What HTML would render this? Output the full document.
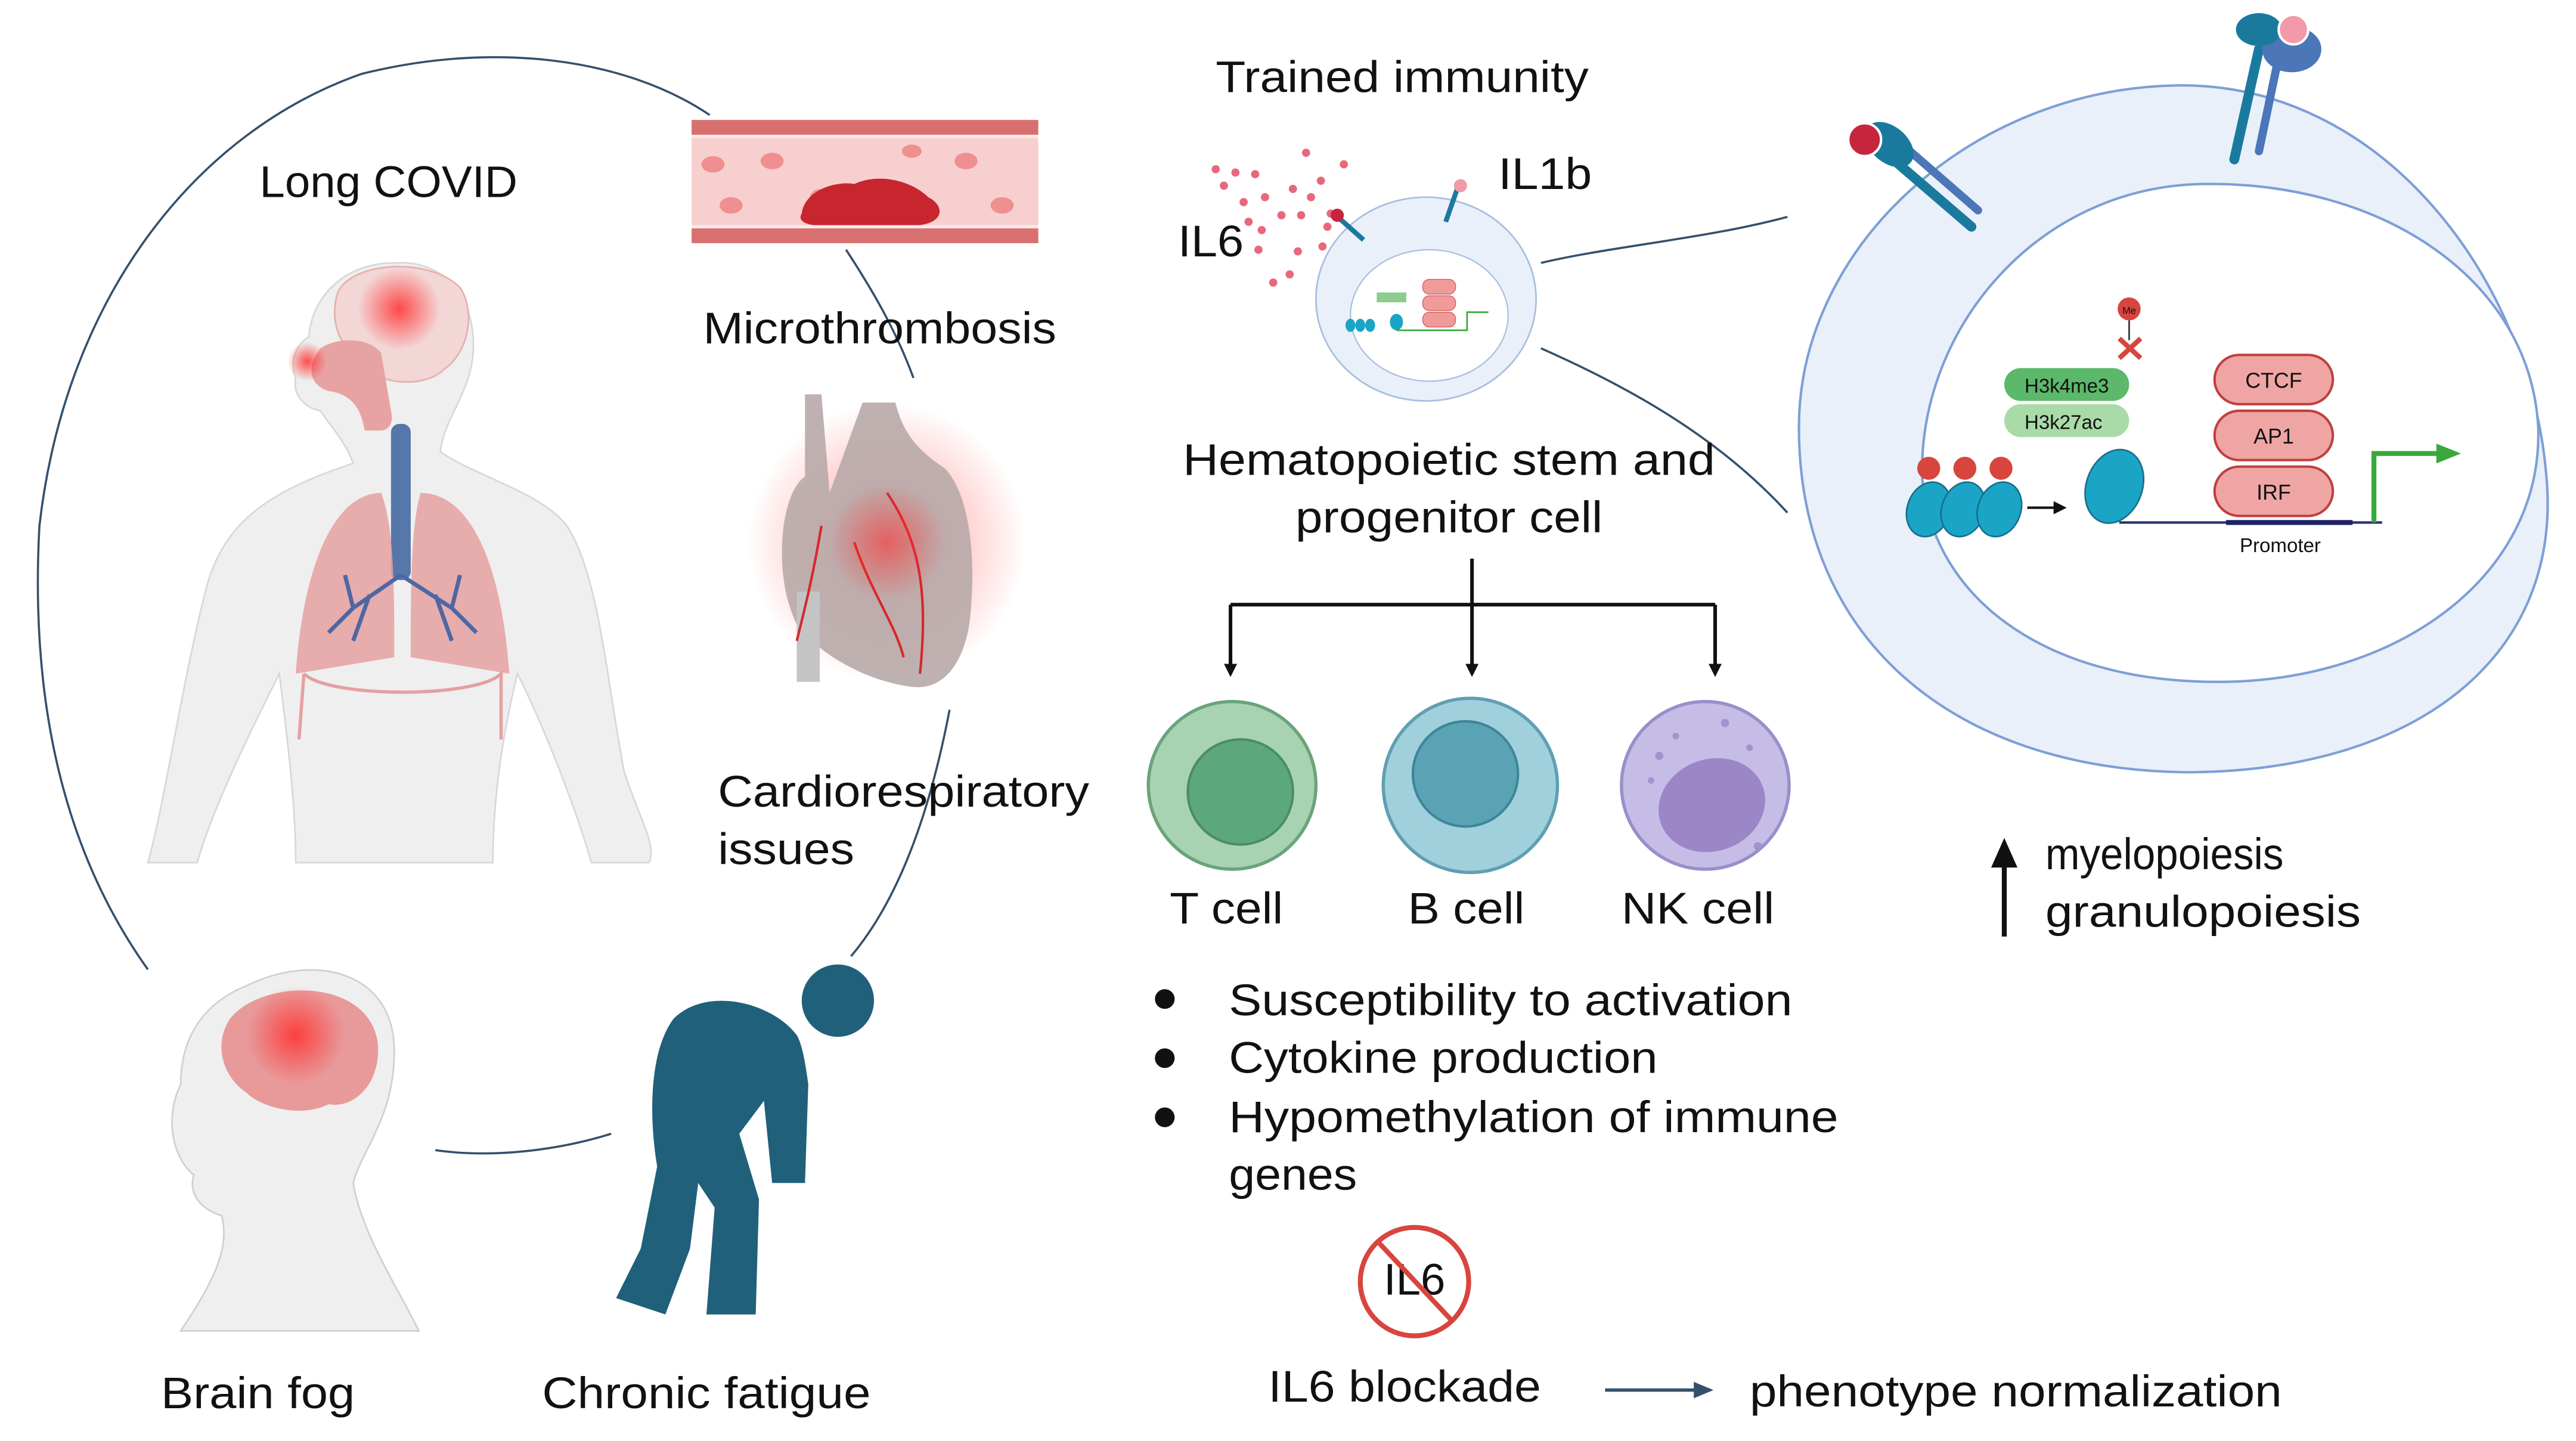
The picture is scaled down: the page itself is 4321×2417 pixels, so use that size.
<!DOCTYPE html>
<html><head><meta charset="utf-8"><style>
html,body{margin:0;padding:0;background:#fff;}
svg{display:block;}
text{font-family:"Liberation Sans",sans-serif;fill:#111;}
</style></head><body>
<svg width="4321" height="2417" viewBox="0 0 1568 877" preserveAspectRatio="none" xmlns="http://www.w3.org/2000/svg">
<defs>
<radialGradient id="glow"><stop offset="0" stop-color="#ff3030" stop-opacity="0.85"/><stop offset="1" stop-color="#ff3030" stop-opacity="0"/></radialGradient>
<marker id="ah" markerWidth="8" markerHeight="8" refX="6" refY="4" orient="auto" markerUnits="userSpaceOnUse"><path d="M0,0 L8,4 L0,8z" fill="#111"/></marker>
<marker id="ah2" markerWidth="12" markerHeight="10" refX="10" refY="5" orient="auto" markerUnits="userSpaceOnUse"><path d="M0,0 L12,5 L0,10z" fill="#34506b"/></marker>
</defs>

<g fill="none" stroke="#34506b" stroke-width="1.3">
<path d="M432,70 C380,35 300,25 220,45 C120,80 40,180 24,320 C18,430 40,520 90,590"/>
<path d="M265,700 C300,705 340,700 372,690"/>
<path d="M578,432 C565,500 545,550 518,582"/>
<path d="M515,152 C530,175 545,200 556,230"/>
</g>

<rect x="421" y="73" width="211" height="75" fill="#fbe9e9"/>
<rect x="421" y="73" width="211" height="9" fill="#d97070"/>
<rect x="421" y="139" width="211" height="9" fill="#d97070"/>
<rect x="421" y="84" width="211" height="53" fill="#f7cfcf"/>
<g fill="#ef8f8f"><ellipse cx="434" cy="100" rx="7" ry="5"/><ellipse cx="470" cy="98" rx="7" ry="5"/><ellipse cx="500" cy="120" rx="7" ry="5"/><ellipse cx="588" cy="98" rx="7" ry="5"/><ellipse cx="610" cy="125" rx="7" ry="5"/><ellipse cx="445" cy="125" rx="7" ry="5"/><ellipse cx="555" cy="92" rx="6" ry="4"/></g>
<path d="M488,130 C490,115 510,110 520,112 C535,105 555,110 565,120 C575,125 575,135 560,137 L495,137 C488,136 486,133 488,130z" fill="#c8262e"/>

<path d="M240,160 C270,158 290,180 288,215 C286,240 270,255 268,275 C290,290 330,300 345,320 C365,350 370,420 380,470 C390,500 400,515 395,525 L360,525 C350,490 330,440 315,410 C305,450 300,490 300,525 L180,525 C180,490 175,450 170,410 C155,440 130,490 120,525 L90,525 C100,490 110,420 125,360 C135,320 160,300 215,282 C210,268 200,258 195,250 C185,248 178,240 180,230 C176,220 180,210 188,205 C190,180 210,160 240,160z" fill="#efefef" stroke="#d8d8d8" stroke-width="1"/>
<path d="M205,180 C210,160 260,155 280,175 C290,190 285,215 270,225 C260,235 235,235 225,225 C210,215 200,200 205,180z" fill="#f3d6d6" stroke="#e6b0b0" stroke-width="1"/>
<circle cx="243" cy="188" r="25" fill="url(#glow)"/>
<path d="M195,212 C205,205 225,205 232,215 L238,250 C240,258 236,262 232,262 L222,262 C220,250 215,240 200,238 C190,235 185,225 195,212z" fill="#e7a3a3"/>
<circle cx="187" cy="220" r="12" fill="url(#glow)"/>
<rect x="238" y="258" width="12" height="95" rx="5" fill="#5577aa"/>
<path d="M232,300 C205,300 185,340 180,410 L240,400 C240,360 240,320 232,300z" fill="#e5a0a0" opacity="0.85"/>
<path d="M256,300 C285,300 305,340 310,410 L250,400 C250,360 250,320 256,300z" fill="#e5a0a0" opacity="0.85"/>
<g stroke="#4e67a2" stroke-width="2.5" fill="none"><path d="M244,350 L215,370 L200,385 M215,370 L210,350 M225,362 L215,390"/><path d="M244,350 L275,370 L290,385 M275,370 L280,350 M265,362 L275,390"/></g>
<path d="M185,410 C200,425 290,425 305,410 L305,450 M185,410 L182,450" stroke="#e5a0a0" stroke-width="2" fill="none"/>

<circle cx="540" cy="330" r="85" fill="url(#glow)" opacity="0.6"/>
<path d="M490,240 L500,240 L505,300 L525,245 L545,245 C550,265 560,275 575,285 C590,300 595,340 590,380 C585,410 570,420 555,418 C530,415 500,400 485,380 C470,350 475,300 490,290z" fill="#b8a8a8" opacity="0.9"/>
<rect x="485" y="360" width="14" height="55" fill="#c4c4c4"/>
<g stroke="#d8262b" stroke-width="1.5" fill="none"><path d="M500,320 C495,350 490,370 485,390 M540,300 C560,330 565,360 560,410 M520,330 C530,360 545,380 550,400"/></g>
<circle cx="540" cy="330" r="35" fill="url(#glow)" opacity="0.7"/>

<path d="M150,600 C190,580 240,590 240,640 C240,680 220,700 215,720 C220,750 240,780 255,810 L110,810 C130,780 140,760 135,740 C120,735 115,725 118,715 C105,705 100,680 110,660 C110,630 125,610 150,600z" fill="#efefef" stroke="#d0d0d0" stroke-width="1"/>
<path d="M140,620 C160,595 225,595 230,635 C232,660 215,675 200,672 C185,680 160,675 150,665 C135,655 130,635 140,620z" fill="#e89a9a"/>
<circle cx="180" cy="630" r="30" fill="url(#glow)"/>

<g fill="#20607a">
<circle cx="510" cy="609" r="22"/>
<path d="M485,630 C470,610 430,600 410,620 C395,640 395,680 400,710 L390,760 L375,790 L405,800 L420,760 L425,720 L435,735 L430,800 L460,800 L462,730 L450,690 L465,670 L470,720 L490,720 L492,660 C490,645 488,635 485,630z"/>
</g>

<g font-size="27">
<text x="158" y="120" textLength="157" lengthAdjust="spacingAndGlyphs">Long COVID</text>
<text x="428" y="209" textLength="215" lengthAdjust="spacingAndGlyphs">Microthrombosis</text>
<text x="437" y="491" textLength="226" lengthAdjust="spacingAndGlyphs">Cardiorespiratory</text>
<text x="437" y="526" textLength="83" lengthAdjust="spacingAndGlyphs">issues</text>
<text x="98" y="857" textLength="118" lengthAdjust="spacingAndGlyphs">Brain fog</text>
<text x="330" y="857" textLength="200" lengthAdjust="spacingAndGlyphs">Chronic fatigue</text>

<text x="740" y="56" textLength="227" lengthAdjust="spacingAndGlyphs">Trained immunity</text>
<text x="912" y="115" textLength="57" lengthAdjust="spacingAndGlyphs">IL1b</text>
<text x="717" y="156" textLength="40" lengthAdjust="spacingAndGlyphs">IL6</text>
</g>
<g fill="#e8687a">
<circle cx="740" cy="103" r="2.5"/><circle cx="752" cy="105" r="2.5"/><circle cx="764" cy="106" r="2.5"/><circle cx="795" cy="93" r="2.5"/><circle cx="818" cy="100" r="2.5"/><circle cx="745" cy="113" r="2.5"/><circle cx="770" cy="120" r="2.5"/><circle cx="787" cy="115" r="2.5"/><circle cx="798" cy="120" r="2.5"/><circle cx="757" cy="123" r="2.5"/><circle cx="780" cy="131" r="2.5"/><circle cx="792" cy="131" r="2.5"/><circle cx="810" cy="130" r="2.5"/><circle cx="768" cy="140" r="2.5"/><circle cx="790" cy="153" r="2.5"/><circle cx="805" cy="150" r="2.5"/><circle cx="760" cy="135" r="2.5"/><circle cx="785" cy="167" r="2.5"/><circle cx="775" cy="172" r="2.5"/><circle cx="808" cy="138" r="2.5"/><circle cx="766" cy="152" r="2.5"/><circle cx="804" cy="110" r="2.5"/><circle cx="810" cy="157" r="2.5"/></g>
<ellipse cx="868" cy="182" rx="67" ry="62" fill="#eaf0f9" stroke="#a9bedf" stroke-width="1"/>
<ellipse cx="870" cy="192" rx="48" ry="40" fill="#fff" stroke="#a9bedf" stroke-width="0.8"/>
<path d="M812,130 L830,146" stroke="#1a7a9e" stroke-width="3"/><circle cx="814" cy="131" r="4" fill="#c6263d"/>
<path d="M880,135 L887,115" stroke="#1a7a9e" stroke-width="3"/><circle cx="889" cy="113" r="4" fill="#f29aa9"/>
<g fill="#f09a9a" stroke="#d06060" stroke-width="0.5"><rect x="866" y="170" width="20" height="9" rx="4"/><rect x="866" y="180" width="20" height="9" rx="4"/><rect x="866" y="190" width="20" height="9" rx="4"/></g>
<rect x="838" y="178" width="18" height="6" fill="#8ccc8c"/>
<g fill="#1aa5c6"><ellipse cx="822" cy="198" rx="3" ry="4"/><ellipse cx="828" cy="198" rx="3" ry="4"/><ellipse cx="834" cy="198" rx="3" ry="4"/><ellipse cx="850" cy="196" rx="4" ry="5"/></g>
<path d="M850,201 L893,201 L893,190 L906,190" stroke="#39a83b" stroke-width="1" fill="none"/>
<g stroke="#34506b" stroke-width="1.3" fill="none"><path d="M938,160 C980,150 1040,145 1088,132"/><path d="M938,212 C990,235 1045,265 1088,312"/></g>

<g font-size="27">
<text x="882" y="289" text-anchor="middle" textLength="324" lengthAdjust="spacingAndGlyphs">Hematopoietic stem and</text>
<text x="882" y="324" text-anchor="middle" textLength="187" lengthAdjust="spacingAndGlyphs">progenitor cell</text>
</g>
<g stroke="#111" stroke-width="2.2" fill="none">
<path d="M896,340 L896,410" marker-end="url(#ah)"/>
<path d="M749,368 L1044,368"/>
<path d="M749,368 L749,410" marker-end="url(#ah)"/>
<path d="M1044,368 L1044,410" marker-end="url(#ah)"/>
</g>
<circle cx="750" cy="478" r="51" fill="#a8d3b2" stroke="#6aa47a" stroke-width="2"/>
<circle cx="755" cy="482" r="32" fill="#5ca77b" stroke="#4b8c66" stroke-width="1.5"/>
<circle cx="895" cy="478" r="53" fill="#9fd0dc" stroke="#5f9fb2" stroke-width="2"/>
<circle cx="892" cy="471" r="32" fill="#5aa3b4" stroke="#3e8597" stroke-width="1.5"/>
<circle cx="1038" cy="478" r="51" fill="#c5bde6" stroke="#9a8ecb" stroke-width="2"/>
<ellipse cx="1042" cy="490" rx="33" ry="28" fill="#9b86c8" transform="rotate(-20 1042 490)"/>
<g fill="#a293cc"><circle cx="1010" cy="460" r="2.5"/><circle cx="1020" cy="448" r="2"/><circle cx="1050" cy="440" r="2.5"/><circle cx="1065" cy="455" r="2"/><circle cx="1005" cy="475" r="2"/><circle cx="1070" cy="515" r="2.5"/></g>
<g font-size="27">
<text x="712" y="562" textLength="69" lengthAdjust="spacingAndGlyphs">T cell</text>
<text x="857" y="562" textLength="71" lengthAdjust="spacingAndGlyphs">B cell</text>
<text x="987" y="562" textLength="93" lengthAdjust="spacingAndGlyphs">NK cell</text>

<circle cx="709" cy="608" r="6" fill="#111"/><text x="748" y="618" textLength="343" lengthAdjust="spacingAndGlyphs">Susceptibility to activation</text>
<circle cx="709" cy="644" r="6" fill="#111"/><text x="748" y="653" textLength="261" lengthAdjust="spacingAndGlyphs">Cytokine production</text>
<circle cx="709" cy="680" r="6" fill="#111"/><text x="748" y="689" textLength="371" lengthAdjust="spacingAndGlyphs">Hypomethylation of immune</text>
<text x="748" y="724" textLength="78" lengthAdjust="spacingAndGlyphs">genes</text>
</g>

<circle cx="861" cy="780" r="33" fill="#fff" stroke="#d8453e" stroke-width="3"/>
<text x="861" y="788" font-size="27" text-anchor="middle" fill="#222">IL6</text>
<path d="M839,756 L884,804" stroke="#d8453e" stroke-width="3"/>
<text x="772" y="853" font-size="27" textLength="166" lengthAdjust="spacingAndGlyphs">IL6 blockade</text>
<path d="M977,846 L1041,846" stroke="#34506b" stroke-width="2" marker-end="url(#ah2)"/>
<text x="1065" y="856" font-size="27" textLength="324" lengthAdjust="spacingAndGlyphs">phenotype normalization</text>

<path d="M1325,52 C1450,50 1540,170 1550,290 C1560,400 1470,470 1330,470 C1190,468 1095,390 1095,260 C1095,150 1200,54 1325,52z" fill="#eaf0f9" stroke="#7d9fd6" stroke-width="1.5"/>
<path d="M1340,112 C1450,110 1540,170 1545,260 C1548,350 1460,415 1350,415 C1240,415 1175,360 1170,290 C1168,200 1240,114 1340,112z" fill="#fff" stroke="#7d9fd6" stroke-width="1.5"/>
<g stroke-linecap="round">
<path d="M1150,95 L1200,138" stroke="#1a7a9e" stroke-width="6"/>
<path d="M1158,88 L1204,128" stroke="#4b77b8" stroke-width="5"/>
<ellipse cx="1150" cy="88" rx="17" ry="11" fill="#1a7a9e" transform="rotate(40 1150 88)"/>
<circle cx="1135" cy="85" r="10" fill="#c6263d" stroke="#fff" stroke-width="1.5"/>
<path d="M1375,30 L1360,97" stroke="#1a7a9e" stroke-width="6"/>
<path d="M1388,30 L1375,92" stroke="#4b77b8" stroke-width="5"/>
<ellipse cx="1395" cy="30" rx="18" ry="14" fill="#4b77b8"/>
<ellipse cx="1375" cy="18" rx="14" ry="10" fill="#1a7a9e"/>
<circle cx="1396" cy="18" r="9" fill="#f29aa9" stroke="#fff" stroke-width="1.5"/>
</g>
<circle cx="1296" cy="188" r="7" fill="#d8453e"/><text x="1296" y="191" font-size="6" text-anchor="middle" fill="#fff">Me</text>
<path d="M1296,195 L1296,207" stroke="#333" stroke-width="1"/>
<path d="M1290,206 L1303,218 M1303,206 L1290,218" stroke="#d8453e" stroke-width="3"/>
<rect x="1220" y="224" width="76" height="20" rx="10" fill="#5cb86a"/>
<text x="1258" y="239" font-size="12" text-anchor="middle">H3k4me3</text>
<rect x="1220" y="246" width="76" height="20" rx="10" fill="#a8dba8"/>
<text x="1256" y="261" font-size="12" text-anchor="middle">H3k27ac</text>
<g fill="#f0a5a5" stroke="#c0403e" stroke-width="1.5">
<rect x="1348" y="216" width="72" height="30" rx="15"/>
<rect x="1348" y="250" width="72" height="30" rx="15"/>
<rect x="1348" y="284" width="72" height="30" rx="15"/>
</g>
<g font-size="13" text-anchor="middle"><text x="1384" y="236" fill="#fff">CTCF</text><text x="1384" y="270" fill="#fff">AP1</text><text x="1384" y="304" fill="#fff">IRF</text></g>
<path d="M1290,318 L1450,318" stroke="#2a2f6e" stroke-width="1.5"/>
<path d="M1355,318 L1432,318" stroke="#1d2266" stroke-width="3"/>
<path d="M1445,318 L1445,276 L1485,276" stroke="#39a83b" stroke-width="3" fill="none"/>
<path d="M1483,270 L1498,276 L1483,282z" fill="#39a83b"/>
<text x="1388" y="336" font-size="12" text-anchor="middle" fill="#2a2f6e">Promoter</text>
<g fill="#1aa5c6" stroke="#1b6f8e" stroke-width="1">
<ellipse cx="1174" cy="310" rx="13" ry="17" transform="rotate(20 1174 310)"/>
<ellipse cx="1195" cy="310" rx="13" ry="17" transform="rotate(20 1195 310)"/>
<ellipse cx="1217" cy="310" rx="13" ry="17" transform="rotate(20 1217 310)"/>
<ellipse cx="1287" cy="296" rx="17" ry="23" transform="rotate(20 1287 296)"/>
</g>
<g fill="#d8453e"><circle cx="1174" cy="285" r="7"/><circle cx="1196" cy="285" r="7"/><circle cx="1218" cy="285" r="7"/></g>
<path d="M1234,309 L1256,309" stroke="#111" stroke-width="1.5" marker-end="url(#ah)"/>

<path d="M1220,570 L1220,520" stroke="#111" stroke-width="3"/>
<path d="M1212,528 L1220,510 L1228,528z" fill="#111"/>
<text x="1245" y="529" font-size="27" textLength="145" lengthAdjust="spacingAndGlyphs">myelopoiesis</text>
<text x="1245" y="564" font-size="27" textLength="192" lengthAdjust="spacingAndGlyphs">granulopoiesis</text>
</svg>
</body></html>
